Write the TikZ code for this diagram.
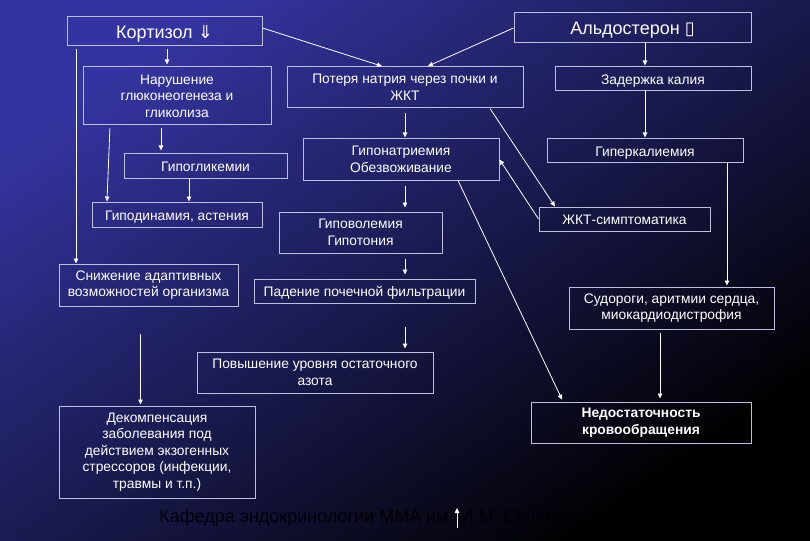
\documentclass[tikz,border=0pt]{standalone}
\usepackage{fontspec}
\setmainfont{Liberation Sans}
\newfontfamily\dejavu{DejaVu Sans}
\usetikzlibrary{arrows.meta}
\definecolor{bgA}{HTML}{3434A0}
\definecolor{bgB}{HTML}{202066}
\definecolor{bgC}{HTML}{000000}
\definecolor{edgec}{HTML}{BEBEDE}
\definecolor{footc}{HTML}{000008}
\begin{document}
\begin{tikzpicture}[x=1pt, y=-1pt,
  box/.style={draw=edgec, line width=1pt, text=white, align=center, inner sep=0pt,
    font=\fontsize{13.8}{16.5}\selectfont},
  one/.style={box, text height=11.5pt, text depth=0pt},
  head/.style={box, font=\fontsize{18}{21}\selectfont, text height=13.5pt, text depth=0pt},
  arr/.style={draw=white, line width=0.8pt, -{Triangle[length=5pt,width=4.5pt]}}]
\useasboundingbox (0,0) rectangle (810,540);
\shade[top color=bgA, middle color=bgB, bottom color=bgC, shading angle=35] (0,0) rectangle (810,540);

% nodes
\node[head, minimum width=195pt, minimum height=29pt] (kort) at (164.5,31.5) {Кортизол {\dejavu ⇓}};
\node[head, minimum width=237pt, minimum height=30pt] (ald) at (632.5,28) {Альдостерон {\dejavu ▯}};
\node[box, minimum width=188pt, minimum height=58pt] (nar) at (177,96) {Нарушение\\глюконеогенеза и\\гликолиза};
\node[box, minimum width=236pt, minimum height=41pt] (pot) at (405,87.5) {Потеря натрия через почки и\\ЖКТ};
\node[one, minimum width=196pt, minimum height=24pt] (zad) at (653,79) {Задержка калия};
\node[one, minimum width=163pt, minimum height=24pt] (gipogl) at (205.5,166) {Гипогликемии};
\node[box, minimum width=196pt, minimum height=41pt] (gipona) at (401,159.5) {Гипонатриемия\\Обезвоживание};
\node[one, minimum width=196pt, minimum height=24pt] (giperk) at (645,151) {Гиперкалиемия};
\node[one, minimum width=170pt, minimum height=25pt] (gipod) at (177,214.5) {Гиподинамия, астения};
\node[box, minimum width=163pt, minimum height=41pt] (gipovol) at (360.5,232.5) {Гиповолемия\\Гипотония};
\node[one, minimum width=171pt, minimum height=24pt] (zhkt) at (624.5,219) {ЖКТ-симптоматика};
\node[box, minimum width=179pt, minimum height=42pt] (snizh) at (148.5,285) {Снижение адаптивных\\возможностей организма};
\node[one, minimum width=221pt, minimum height=24pt] (paden) at (364.5,291) {Падение почечной фильтрации};
\node[box, minimum width=205pt, minimum height=42pt] (sudor) at (671.5,308) {Судороги, аритмии сердца,\\миокардиодистрофия};
\node[box, minimum width=236pt, minimum height=41pt] (povysh) at (315,372.5) {Повышение уровня остаточного\\азота};
\node[box, minimum width=220pt, minimum height=41pt, font=\fontsize{13.8}{16.5}\selectfont\bfseries] (nedost) at (641,422.5) {Недостаточность\\кровообращения};
\node[box, minimum width=196pt, minimum height=92pt] (dekomp) at (157,452) {Декомпенсация\\заболевания под\\действием экзогенных\\стрессоров (инфекции,\\травмы и т.п.)};
\node[font=\fontsize{18}{21}\selectfont, text=footc, inner sep=0pt] (foot) at (372,518) {Кафедра эндокринологии ММА им. И.М. Сеченова};

% helper coordinates
\coordinate (k1) at ([xshift=2.5pt]kort.south);
\coordinate (k2) at ([xshift=-88.5pt]kort.south);
\coordinate (k3) at ([yshift=3.5pt]kort.east);
\coordinate (p1) at ([xshift=-22pt]pot.north);
\coordinate (p2) at ([xshift=22pt]pot.north);
\coordinate (a1) at ([xshift=12.5pt]ald.south);
\coordinate (n1) at ([xshift=-67pt]nar.south);
\coordinate (n2) at ([xshift=-70pt]gipod.north);
\coordinate (n3) at ([xshift=-16pt]nar.south);
\coordinate (g1) at ([xshift=-16.5pt]gipogl.south);
\coordinate (p3) at ([xshift=85pt]pot.south);
\coordinate (z1) at ([xshift=-69.5pt]zhkt.north);
\coordinate (h1) at ([xshift=57pt]gipona.south);
\coordinate (d1) at ([xshift=-78pt]nedost.north);
\coordinate (h2) at ([xshift=82pt]giperk.south);
\coordinate (s1) at ([xshift=-11.5pt]sudor.south);
\coordinate (c1) at ([xshift=-8pt]snizh.south);
\coordinate (f1) at (457,528);
\coordinate (f2) at (457,508);

% connectors
\draw[arr, shorten <=3pt, shorten >=2pt] (k1) -- (k1 |- nar.north);
\draw[arr, shorten >=1pt] (k3) -- (p1);
\draw[arr, shorten >=1pt] (ald.west) -- (p2);
\draw[arr, shorten >=1pt] (a1) -- (a1 |- zad.north);
\draw[arr, shorten >=1pt] (zad.south -| giperk.north) -- (giperk.north);
\draw[arr, shorten <=3pt] (k2) -- (k2 |- snizh.north);
\draw[arr, shorten <=3pt] (n1) -- (n2);
\draw[arr, shorten <=3pt, shorten >=3pt] (n3) -- (n3 |- gipogl.north);
\draw[arr] (g1) -- (g1 |- gipod.north);
\draw[arr, shorten <=5pt, shorten >=1pt] (pot.south) -- (pot.south |- gipona.north);
\draw[arr, shorten <=5pt, shorten >=4pt] (gipona.south -| pot.south) -- (pot.south |- gipovol.north);
\draw[arr, shorten <=5pt, shorten >=4pt] (gipovol.south -| pot.south) -- (pot.south |- paden.north);
\draw[arr, shorten <=23pt, shorten >=3pt] (paden.south -| pot.south) -- (pot.south |- povysh.north);
\draw[arr] (p3) -- (z1);
\draw[arr] (zhkt.west) -- (gipona.east);
\draw[arr, shorten >=2pt] (h1) -- (d1);
\draw[arr, shorten >=1pt] (h2) -- (h2 |- sudor.north);
\draw[arr, shorten <=3pt, shorten >=3pt] (s1) -- (s1 |- nedost.north);
\draw[arr, shorten <=27pt, shorten >=1pt] (c1) -- (c1 |- dekomp.north);
\draw[arr] (f1) -- (f2);
\end{tikzpicture}
\end{document}
